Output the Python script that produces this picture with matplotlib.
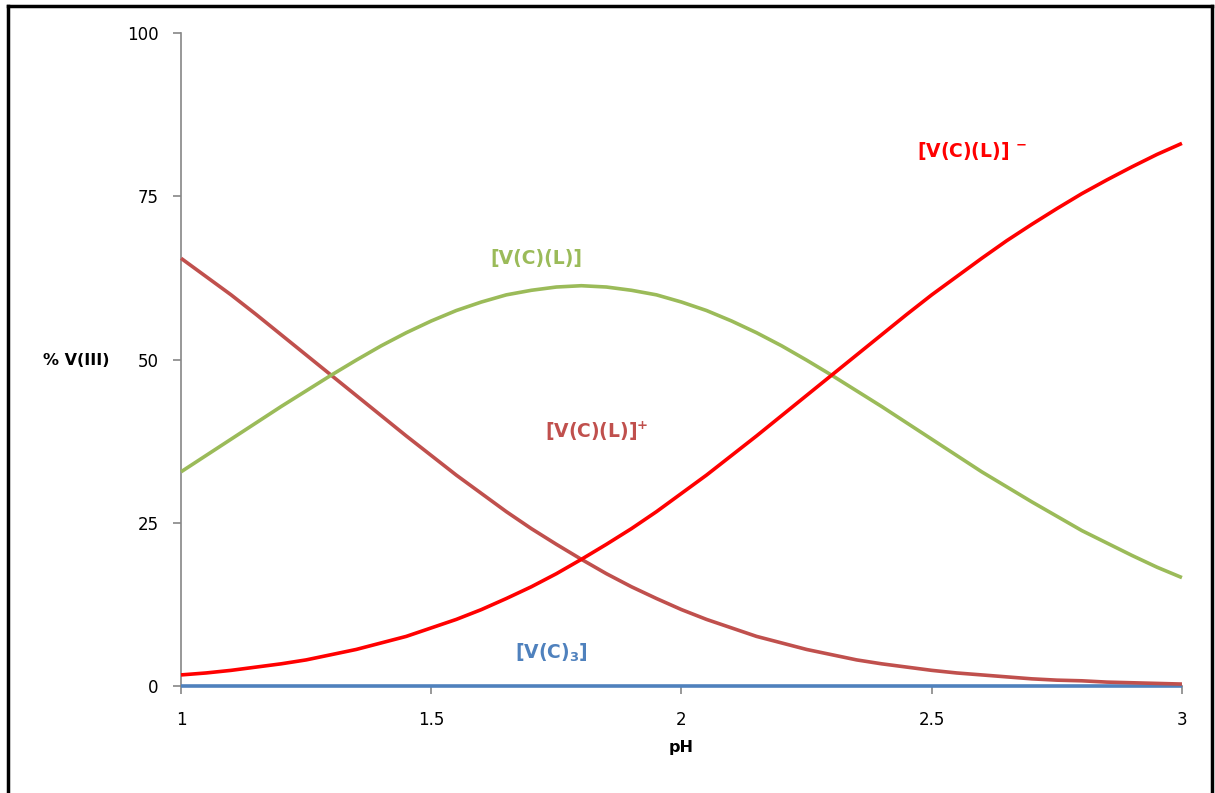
import matplotlib
matplotlib.use("Agg")
import matplotlib.pyplot as plt
from matplotlib.lines import Line2D

plt.rcParams['font.family'] = ['DejaVu Sans']
plt.rcParams['mathtext.fontset'] = 'custom'
plt.rcParams['mathtext.rm'] = 'DejaVu Sans:bold'
plt.rcParams['mathtext.bf'] = 'DejaVu Sans:bold'
plt.rcParams['mathtext.default'] = 'bf'

ph = [1.00, 1.05, 1.10, 1.15, 1.20, 1.25, 1.30, 1.35, 1.40, 1.45,
      1.50, 1.55, 1.60, 1.65, 1.70, 1.75, 1.80, 1.85, 1.90, 1.95,
      2.00, 2.05, 2.10, 2.15, 2.20, 2.25, 2.30, 2.35, 2.40, 2.45,
      2.50, 2.55, 2.60, 2.65, 2.70, 2.75, 2.80, 2.85, 2.90, 2.95, 3.00]
vcl_plus = [65.5, 62.7, 59.9, 56.9, 53.8, 50.7, 47.6, 44.5, 41.4, 38.3,
            35.3, 32.3, 29.5, 26.7, 24.1, 21.7, 19.4, 17.2, 15.2, 13.4,
            11.7, 10.2, 8.9, 7.6, 6.6, 5.6, 4.8, 4.0, 3.4, 2.9,
            2.4, 2.0, 1.7, 1.4, 1.1, 0.9, 0.8, 0.6, 0.5, 0.4, 0.3]
vcl = [32.8, 35.3, 37.8, 40.3, 42.8, 45.2, 47.6, 49.9, 52.1, 54.1,
       55.9, 57.5, 58.8, 59.9, 60.6, 61.1, 61.3, 61.1, 60.6, 59.9,
       58.8, 57.5, 55.9, 54.1, 52.1, 49.9, 47.6, 45.2, 42.8, 40.3,
       37.8, 35.3, 32.8, 30.5, 28.2, 26.0, 23.8, 21.9, 20.0, 18.2, 16.6]
vcl_minus = [1.7, 2.0, 2.4, 2.9, 3.4, 4.0, 4.8, 5.6, 6.6, 7.6,
             8.9, 10.2, 11.7, 13.4, 15.2, 17.2, 19.4, 21.7, 24.1, 26.7,
             29.5, 32.3, 35.3, 38.3, 41.4, 44.5, 47.6, 50.7, 53.8, 56.9,
             59.9, 62.7, 65.5, 68.2, 70.7, 73.1, 75.4, 77.5, 79.5, 81.4, 83.1]
vc3 = [0.0] * len(ph)

x_ticks = [1, 1.5, 2, 2.5, 3]
x_tick_labels = ['1', '1.5', '2', '2.5', '3']
y_ticks = [0, 25, 50, 75, 100]

fig = plt.figure(figsize=(12.15, 7.93), dpi=100)
ax = fig.add_axes([0.149, 0.1349, 0.8238, 0.8235])

style = dict(lw=2.6, clip_on=False, solid_joinstyle='round', solid_capstyle='butt')
ax.plot(ph, vc3, color='#4F81BD', zorder=3, **style)
ax.plot(ph, vcl_plus, color='#C0504D', zorder=4, **style)
ax.plot(ph, vcl, color='#9BBB59', zorder=4, **style)
ax.plot(ph, vcl_minus, color='#FF0000', zorder=5, **style)

ax.set_xlim(1, 3)
ax.set_ylim(0, 100)
ax.set_xticks(x_ticks)
ax.set_xticklabels(x_tick_labels)
ax.set_yticks(y_ticks)

for side in ('top', 'right'):
    ax.spines[side].set_visible(False)
for side in ('left', 'bottom'):
    ax.spines[side].set_color('#868686')
    ax.spines[side].set_linewidth(1.2)
ax.tick_params(axis='both', direction='out', length=6, width=1.2,
               color='#868686', labelsize=12, labelcolor='black')
ax.tick_params(axis='y', pad=10)
ax.tick_params(axis='x', pad=12)

ax.set_xlabel('pH', fontsize=11.5, fontweight='bold', labelpad=8)
fig.text(0.063, 0.545, '% V(III)', fontsize=11.5, fontweight='bold',
         ha='center', va='center')

lab = dict(fontsize=13.5, fontweight='bold', ha='center', va='center')
ax.text(1.71, 65.5, '[V(C)(L)]', color='#9BBB59', **lab)
ax.text(1.83, 39.0, r'[V(C)(L)]$^{+}$', color='#C0504D', **lab)
ax.text(2.58, 82.0, r'[V(C)(L)] $^{-}$', color='#FF0000', **lab)
ax.text(1.74, 5.1, r'[V(C)$_{3}$]', color='#4F81BD', **lab)

# outer frame of the figure
W, H = 1215, 793
x0, x1, y0 = 7.5 / W, 1211.5 / W, 1 - 5.5 / H
frame = dict(color='black', lw=2.5, transform=fig.transFigure)
fig.add_artist(Line2D([x0, x1], [y0, y0], **frame))
fig.add_artist(Line2D([x0, x0], [y0, -0.01], **frame))
fig.add_artist(Line2D([x1, x1], [y0, -0.01], **frame))

fig.savefig('out.png', dpi=100)
